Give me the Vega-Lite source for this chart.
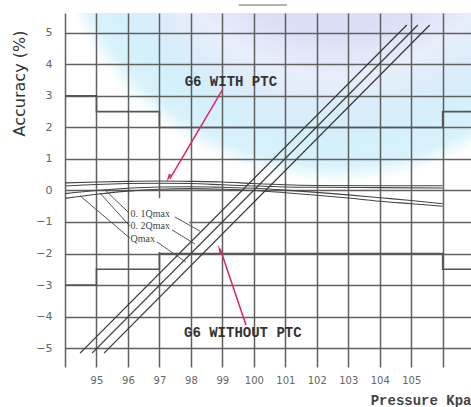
{
  "$schema": "https://vega.github.io/schema/vega-lite/v6.json",
  "width": 406,
  "height": 354,
  "autosize": {"type": "none"},
  "padding": {"left": 65, "top": 13, "right": 0, "bottom": 40},
  "background": "white",
  "view": {
    "stroke": null,
    "fill": {
      "gradient": "radial", "x1": 0.666, "y1": -0.23, "r1": 0, "x2": 0.666, "y2": -0.23, "r2": 0.75,
      "stops": [
        {"offset": 0, "color": "#d8dcf6"},
        {"offset": 0.45, "color": "#dadef7"},
        {"offset": 0.6, "color": "#e8eefb"},
        {"offset": 0.7, "color": "#dcecfa"},
        {"offset": 0.8, "color": "#d3f0fb"},
        {"offset": 0.89, "color": "#d8f2fb"},
        {"offset": 0.95, "color": "#ffffff"},
        {"offset": 1, "color": "#ffffff"}
      ]
    }
  },
  "datasets": {
    "box": [{"x": 96.05, "x2": 97.95, "y": -0.25, "y2": -1.95}],
    "ptc": [
      {"s": "p1", "i": 0, "x": 94, "y": 0.24}, {"s": "p1", "i": 1, "x": 95, "y": 0.27}, {"s": "p1", "i": 2, "x": 96, "y": 0.29},
      {"s": "p1", "i": 3, "x": 97, "y": 0.3}, {"s": "p1", "i": 4, "x": 98, "y": 0.29}, {"s": "p1", "i": 5, "x": 99, "y": 0.27},
      {"s": "p1", "i": 6, "x": 100, "y": 0.22}, {"s": "p1", "i": 7, "x": 101, "y": 0.18}, {"s": "p1", "i": 8, "x": 102, "y": 0.16},
      {"s": "p1", "i": 9, "x": 104, "y": 0.15}, {"s": "p1", "i": 10, "x": 106, "y": 0.15},
      {"s": "p2", "i": 0, "x": 94, "y": 0.14}, {"s": "p2", "i": 1, "x": 95, "y": 0.19}, {"s": "p2", "i": 2, "x": 96, "y": 0.22},
      {"s": "p2", "i": 3, "x": 97, "y": 0.23}, {"s": "p2", "i": 4, "x": 98, "y": 0.22}, {"s": "p2", "i": 5, "x": 99, "y": 0.18},
      {"s": "p2", "i": 6, "x": 100, "y": 0.14}, {"s": "p2", "i": 7, "x": 101, "y": 0.11}, {"s": "p2", "i": 8, "x": 102, "y": 0.1},
      {"s": "p2", "i": 9, "x": 104, "y": 0.09}, {"s": "p2", "i": 10, "x": 106, "y": 0.08},
      {"s": "p3", "i": 0, "x": 94, "y": -0.1}, {"s": "p3", "i": 1, "x": 95, "y": 0.0}, {"s": "p3", "i": 2, "x": 96, "y": 0.07},
      {"s": "p3", "i": 3, "x": 97, "y": 0.11}, {"s": "p3", "i": 4, "x": 98, "y": 0.12}, {"s": "p3", "i": 5, "x": 99, "y": 0.1},
      {"s": "p3", "i": 6, "x": 100, "y": 0.07}, {"s": "p3", "i": 7, "x": 101, "y": 0.01}, {"s": "p3", "i": 8, "x": 102, "y": -0.06},
      {"s": "p3", "i": 9, "x": 103, "y": -0.14}, {"s": "p3", "i": 10, "x": 104, "y": -0.23}, {"s": "p3", "i": 11, "x": 105, "y": -0.32},
      {"s": "p3", "i": 12, "x": 106, "y": -0.42},
      {"s": "p4", "i": 0, "x": 94, "y": -0.25}, {"s": "p4", "i": 1, "x": 95, "y": -0.12}, {"s": "p4", "i": 2, "x": 96, "y": -0.02},
      {"s": "p4", "i": 3, "x": 97, "y": 0.04}, {"s": "p4", "i": 4, "x": 98, "y": 0.06}, {"s": "p4", "i": 5, "x": 99, "y": 0.04},
      {"s": "p4", "i": 6, "x": 100, "y": 0.0}, {"s": "p4", "i": 7, "x": 101, "y": -0.07}, {"s": "p4", "i": 8, "x": 102, "y": -0.15},
      {"s": "p4", "i": 9, "x": 103, "y": -0.24}, {"s": "p4", "i": 10, "x": 104, "y": -0.34}, {"s": "p4", "i": 11, "x": 105, "y": -0.42},
      {"s": "p4", "i": 12, "x": 106, "y": -0.5}
    ],
    "diag": [
      {"s": "d1", "i": 0, "x": 94.48, "y": -5.16}, {"s": "d1", "i": 1, "x": 104.86, "y": 5.25},
      {"s": "d2", "i": 0, "x": 94.86, "y": -5.16}, {"s": "d2", "i": 1, "x": 105.21, "y": 5.25},
      {"s": "d3", "i": 0, "x": 95.24, "y": -5.16}, {"s": "d3", "i": 1, "x": 105.59, "y": 5.25}
    ],
    "limits": [
      {"s": "up", "i": 0, "x": 94, "y": 3}, {"s": "up", "i": 1, "x": 95, "y": 3}, {"s": "up", "i": 2, "x": 95, "y": 2.5},
      {"s": "up", "i": 3, "x": 97, "y": 2.5}, {"s": "up", "i": 4, "x": 97, "y": 2}, {"s": "up", "i": 5, "x": 106, "y": 2},
      {"s": "up", "i": 6, "x": 106, "y": 2.5}, {"s": "up", "i": 7, "x": 106.9, "y": 2.5},
      {"s": "lo", "i": 0, "x": 94, "y": -3}, {"s": "lo", "i": 1, "x": 95, "y": -3}, {"s": "lo", "i": 2, "x": 95, "y": -2.5},
      {"s": "lo", "i": 3, "x": 97, "y": -2.5}, {"s": "lo", "i": 4, "x": 97, "y": -2}, {"s": "lo", "i": 5, "x": 106, "y": -2},
      {"s": "lo", "i": 6, "x": 106, "y": -2.5}, {"s": "lo", "i": 7, "x": 106.9, "y": -2.5}
    ],
    "leaders": [
      {"x": 94.48, "y": -0.17, "x2": 96.06, "y2": -1.51},
      {"x": 95.11, "y": -0.08, "x2": 96.06, "y2": -1.13},
      {"x": 95.27, "y": 0.02, "x2": 96.03, "y2": -0.71},
      {"x": 97.49, "y": -0.84, "x2": 98.29, "y2": -1.29},
      {"x": 97.4, "y": -1.25, "x2": 98.13, "y2": -1.7},
      {"x": 96.92, "y": -1.63, "x2": 97.84, "y2": -2.27}
    ],
    "notes": [
      {"x": 96.08, "y": -0.75, "t": "0. 1Qmax"},
      {"x": 96.08, "y": -1.13, "t": "0. 2Qmax"},
      {"x": 96.08, "y": -1.54, "t": "Qmax"}
    ],
    "labels": [
      {"x": 99.27, "y": 3.44, "t": "G6 WITH PTC"},
      {"x": 99.65, "y": -4.52, "t": "G6 WITHOUT PTC"}
    ],
    "arrows": [
      {"x": 99.0, "y": 3.19, "x2": 97.33, "y2": 0.37},
      {"x": 99.75, "y": -4.27, "x2": 98.93, "y2": -1.85}
    ],
    "head1": [{"x": 97.3, "y": 0.43}],
    "head2": [{"x": 98.92, "y": -1.9}],
    "topline": [{"x": 99.52, "x2": 101.05, "y": 5.88}]
  },
  "encoding": {
    "x": {
      "field": "x", "type": "quantitative",
      "scale": {"domain": [94, 106.9], "nice": false, "zero": false},
      "axis": {
        "values": [94, 95, 96, 97, 98, 99, 100, 101, 102, 103, 104, 105, 106],
        "labelExpr": "datum.value >= 95 && datum.value <= 105 ? datum.label : ''",
        "title": "Pressure Kpa",
        "grid": true, "ticks": false, "domain": false,
        "gridColor": "#606060", "gridWidth": 1.5, "gridOpacity": 1,
        "labelPadding": 8, "labelFont": "DejaVu Sans", "labelFontSize": 10, "labelColor": "#666",
        "labelFlush": false,
        "titleFont": "Liberation Mono", "titleFontSize": 14, "titleFontWeight": "bold", "titleColor": "#444",
        "titleX": 406, "titleY": 33, "titleAlign": "right", "titleBaseline": "middle"
      }
    },
    "y": {
      "field": "y", "type": "quantitative",
      "scale": {"domain": [-5.6, 5.63], "nice": false, "zero": false},
      "axis": {
        "values": [-5, -4, -3, -2, -1, 0, 1, 2, 3, 4, 5],
        "title": "Accuracy (%)",
        "grid": true, "ticks": false, "domain": false,
        "gridColor": "#606060", "gridWidth": 1.5, "gridOpacity": 1,
        "labelPadding": 13, "labelFont": "DejaVu Sans", "labelFontSize": 11, "labelColor": "#666",
        "labelFlush": false,
        "titleFont": "DejaVu Sans", "titleFontSize": 16, "titleFontWeight": "normal", "titleColor": "#333",
        "titleX": -46, "titleY": 70, "titleAlign": "center", "titleBaseline": "middle", "titleAngle": -90
      }
    }
  },
  "layer": [
    {
      "data": {"name": "box"},
      "mark": {"type": "rect", "fill": "white", "stroke": null},
      "encoding": {"x2": {"field": "x2"}, "y2": {"field": "y2"}}
    },
    {
      "data": {"name": "limits"},
      "mark": {"type": "line", "color": "#555", "strokeWidth": 1.6},
      "encoding": {"detail": {"field": "s"}, "order": {"field": "i", "type": "quantitative"}}
    },
    {
      "data": {"name": "ptc"},
      "mark": {"type": "line", "color": "#444", "strokeWidth": 1.1, "interpolate": "monotone"},
      "encoding": {"detail": {"field": "s"}, "order": {"field": "i", "type": "quantitative"}}
    },
    {
      "data": {"name": "diag"},
      "mark": {"type": "line", "color": "#3a3a3a", "strokeWidth": 1.3},
      "encoding": {"detail": {"field": "s"}, "order": {"field": "i", "type": "quantitative"}}
    },
    {
      "data": {"name": "leaders"},
      "mark": {"type": "rule", "color": "#555", "strokeWidth": 1},
      "encoding": {"x2": {"field": "x2"}, "y2": {"field": "y2"}}
    },
    {
      "data": {"name": "notes"},
      "mark": {"type": "text", "align": "left", "baseline": "middle", "font": "Liberation Serif", "fontSize": 10, "color": "#444"},
      "encoding": {"text": {"field": "t"}}
    },
    {
      "data": {"name": "labels"},
      "mark": {"type": "text", "align": "center", "baseline": "middle", "font": "Liberation Mono", "fontWeight": "bold", "fontSize": 14, "color": "#333"},
      "encoding": {"text": {"field": "t"}}
    },
    {
      "data": {"name": "arrows"},
      "mark": {"type": "rule", "color": "#e0226e", "strokeWidth": 1.5},
      "encoding": {"x2": {"field": "x2"}, "y2": {"field": "y2"}}
    },
    {
      "data": {"name": "head1"},
      "mark": {"type": "point", "shape": "wedge", "filled": true, "color": "#e0226e", "size": 110, "opacity": 1, "angle": 203.8},
      "encoding": {}
    },
    {
      "data": {"name": "head2"},
      "mark": {"type": "point", "shape": "wedge", "filled": true, "color": "#e0226e", "size": 110, "opacity": 1, "angle": 341.4},
      "encoding": {}
    },
    {
      "data": {"name": "topline"},
      "mark": {"type": "rule", "color": "#999", "strokeWidth": 1.5},
      "encoding": {"x2": {"field": "x2"}}
    }
  ]
}
